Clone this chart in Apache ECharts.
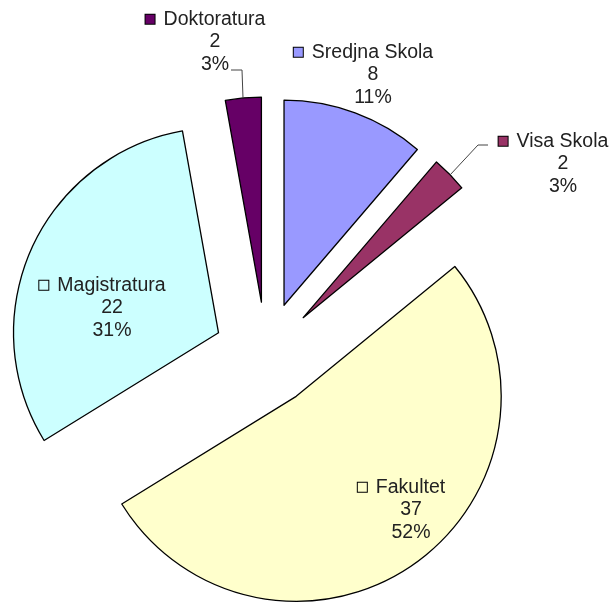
<!DOCTYPE html>
<html>
<head>
<meta charset="utf-8">
<script src="https://cdn.jsdelivr.net/npm/echarts/dist/echarts.min.js"></script>
<style>
  html, body { margin: 0; padding: 0; background: #fff; }
  #chart { width: 612px; height: 603px; }
</style>
</head>
<body>
<div id="chart"></div>
<script>
var names = ['Sredjna Skola', 'Visa Skola', 'Fakultet', 'Magistratura', 'Doktoratura'];
var values = [8, 2, 37, 22, 2];
var colors = ['#9999ff', '#993366', '#ffffcc', '#ccffff', '#660066'];

// label placement: text centre x, top y, optional leader line
var labelPos = [
    {x: 373, y: 41},
    {x: 563, y: 130, line: [[488, 145], [478, 145], [450, 175]]},
    {x: 411, y: 476},
    {x: 112, y: 274},
    {x: 215, y: 8, line: [[231, 70], [242, 70], [243, 98]]}
];

var myChart = echarts.init(document.getElementById('chart'));

var rich = {
    sp: {width: 9},
    rt: {width: 19}
};
for (var i = 0; i < colors.length; i++) {
    rich['sq' + i] = {
        width: 9,
        height: 9,
        backgroundColor: colors[i],
        borderColor: '#000',
        borderWidth: 1
    };
}

// slices, all pulled out from the centre
var sliceData = [];
// same values again, only to carry the labels
var labelData = [];
for (var i = 0; i < names.length; i++) {
    sliceData.push({
        name: names[i],
        value: values[i],
        selected: true,
        itemStyle: {color: colors[i]}
    });
    labelData.push({
        name: names[i],
        value: values[i],
        labelLine: {show: !!labelPos[i].line}
    });
}

var option = {
    animation: false,
    series: [
        {
            type: 'pie',
            z: 2,
            center: [266, 354],
            radius: 205,
            startAngle: 90,
            clockwise: true,
            selectedMode: 'multiple',
            selectedOffset: 52,
            silent: true,
            itemStyle: {borderColor: '#000', borderWidth: 1.3},
            label: {show: false},
            labelLine: {show: false},
            data: sliceData
        },
        {
            type: 'pie',
            z: 5,
            center: [266, 354],
            radius: 205,
            startAngle: 90,
            clockwise: true,
            silent: true,
            avoidLabelOverlap: false,
            itemStyle: {color: 'rgba(0,0,0,0)', borderWidth: 0},
            label: {
                show: true,
                position: 'outside',
                color: '#222',
                fontFamily: '"Liberation Sans", Arial, sans-serif',
                fontSize: 19.5,
                lineHeight: 22.5,
                align: 'center',
                formatter: function (p) {
                    return '{sq' + p.dataIndex + '|}{sp|}' + p.name + '{rt|}\n' +
                        p.value + '\n' + Math.round(p.percent) + '%';
                },
                rich: rich
            },
            labelLine: {
                lineStyle: {color: '#444', width: 1}
            },
            labelLayout: function (params) {
                var lp = labelPos[params.dataIndex];
                var res = {x: lp.x, y: lp.y, align: 'center', verticalAlign: 'top'};
                if (lp.line) {
                    res.labelLinePoints = lp.line;
                }
                return res;
            },
            data: labelData
        }
    ]
};
myChart.setOption(option);
</script>
</body>
</html>
